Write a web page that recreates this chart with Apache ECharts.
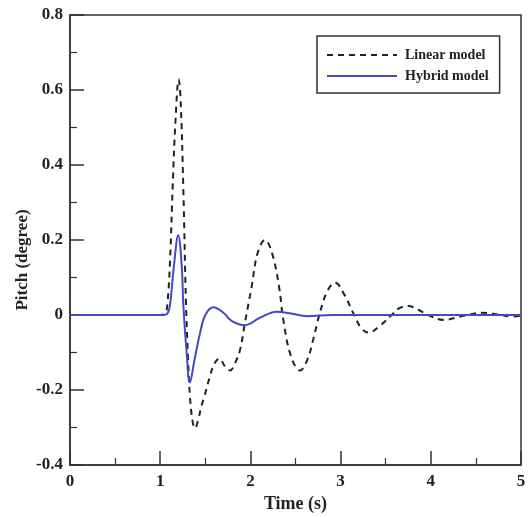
<!DOCTYPE html>
<html>
<head>
<meta charset="utf-8">
<script src="https://cdn.jsdelivr.net/npm/echarts@6/dist/echarts.min.js"></script>
<style>html,body{margin:0;padding:0;background:#fff}#c{width:532px;height:517px}</style>
</head>
<body>
<div id="c"></div>
<script>
const seriesNames = ['Linear model', 'Hybrid model'];
const linearModel = [
  [0,0],[1.0,0],[1.055,0.004],[1.08,0.03],[1.11,0.15],[1.138,0.34],[1.17,0.52],[1.205,0.628],[1.225,0.58],[1.256,0.34],[1.286,0.03],
  [1.31,-0.12],[1.33,-0.218],[1.36,-0.285],[1.386,-0.302],[1.42,-0.28],[1.46,-0.24],[1.489,-0.218],[1.55,-0.165],[1.60,-0.13],
  [1.655,-0.116],[1.72,-0.138],[1.774,-0.148],[1.83,-0.128],[1.885,-0.093],[1.94,-0.02],[2.014,0.076],[2.08,0.165],[2.162,0.2],
  [2.24,0.165],[2.317,0.076],[2.365,-0.013],[2.45,-0.11],[2.55,-0.148],[2.63,-0.12],[2.70,-0.062],[2.764,0],[2.85,0.062],
  [2.94,0.086],[3.04,0.055],[3.15,0],[3.23,-0.035],[3.31,-0.047],[3.44,-0.028],[3.566,0],[3.65,0.018],[3.75,0.024],[3.86,0.014],
  [3.97,0],[4.14,-0.013],[4.35,-0.003],[4.57,0.006],[4.75,0.001],[4.9,-0.004],[5.0,-0.002]
];
const hybridModel = [
  [0,0],[1.05,0],[1.085,0.006],[1.109,0.027],[1.153,0.133],[1.20,0.213],[1.238,0.133],[1.256,0.03],[1.29,-0.09],[1.33,-0.18],
  [1.38,-0.12],[1.441,-0.049],[1.50,0],[1.59,0.021],[1.70,0.006],[1.80,-0.017],[1.94,-0.027],[2.1,-0.008],[2.29,0.009],
  [2.45,0.004],[2.63,-0.003],[2.9,0],[5.0,0]
];
const xTicks = [0,1,2,3,4,5];
const yTicks = [-0.4,-0.2,0,0.2,0.4,0.6,0.8];

const chart = echarts.init(document.getElementById('c'));
const serif = '"Liberation Serif","Times New Roman",serif';
chart.setOption({
  animation: false,
  backgroundColor: '#fff',
  grid: {left: 70, right: 11, top: 15, bottom: 52, show: true, borderColor: '#333', borderWidth: 1.5,
         outerBoundsMode: 'none', containLabel: false},
  legend: {
    orient: 'vertical', left: 317, top: 36,
    padding: [12, 11, 10, 9], itemGap: 7, itemWidth: 70, itemHeight: 14,
    borderColor: '#333', borderWidth: 1.5, backgroundColor: '#fff',
    itemStyle: {opacity: 0},
    textStyle: {fontFamily: serif, fontWeight: 'bold', fontSize: 14, color: '#222', padding: [0, 0, 0, 3]},
    data: seriesNames
  },
  xAxis: {
    type: 'value', min: xTicks[0], max: xTicks[xTicks.length-1], interval: 1,
    name: 'Time (s)', nameLocation: 'middle', nameGap: 30,
    nameTextStyle: {fontFamily: serif, fontWeight: 'bold', fontSize: 18, color: '#222'},
    axisLine: {onZero: false, lineStyle: {color: '#333', width: 1.5}},
    axisTick: {inside: true, length: 14, lineStyle: {color: '#333', width: 1.5}},
    minorTick: {show: true, splitNumber: 2, length: 7, lineStyle: {color: '#333', width: 1.2}},
    splitLine: {show: false},
    axisLabel: {fontFamily: serif, fontWeight: 'bold', fontSize: 17, color: '#222', margin: 8}
  },
  yAxis: {
    type: 'value', min: yTicks[0], max: yTicks[yTicks.length-1], interval: 0.2,
    name: 'Pitch (degree)', nameLocation: 'middle', nameGap: 39, nameMoveOverlap: false,
    nameTextStyle: {fontFamily: serif, fontWeight: 'bold', fontSize: 17, color: '#222', padding: [0, 40, 0, 0]},
    axisLine: {onZero: false, lineStyle: {color: '#333', width: 1.5}},
    axisTick: {inside: true, length: 14, lineStyle: {color: '#333', width: 1.5}},
    minorTick: {show: true, splitNumber: 2, length: 7, lineStyle: {color: '#333', width: 1.2}},
    splitLine: {show: false},
    axisLabel: {fontFamily: serif, fontWeight: 'bold', fontSize: 17, color: '#222', margin: 7,
      formatter: v => String(Math.round(v * 10) / 10)}
  },
  series: [
    {name: seriesNames[0], type: 'line', data: linearModel, symbol: 'none', smooth: 0.4,
     lineStyle: {color: '#222', width: 2, type: [6, 5]}, itemStyle: {color: '#222'}, z: 2},
    {name: seriesNames[1], type: 'line', data: hybridModel, symbol: 'none', smooth: 0.4,
     lineStyle: {color: '#4646c8', width: 2}, itemStyle: {color: '#4646c8'}, z: 3}
  ]
});
</script>
</body>
</html>
